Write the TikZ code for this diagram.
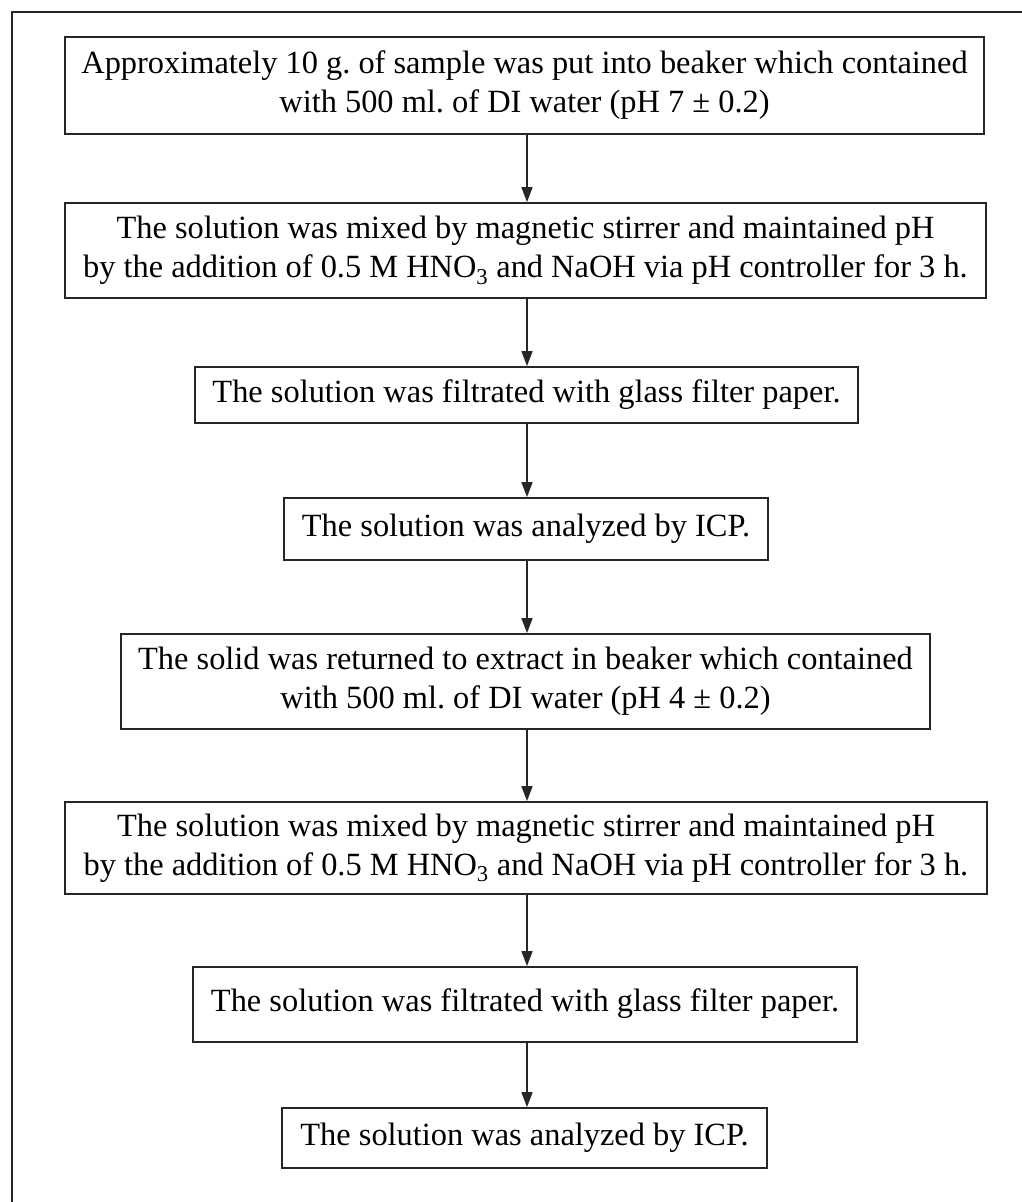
\documentclass[tikz,border=0pt]{standalone}
\usepackage{fontspec}
\setmainfont{Liberation Serif}
\usetikzlibrary{arrows.meta}
\frenchspacing
\begin{document}
\begin{tikzpicture}[x=1pt,y=-1pt,
  stepbox/.style={draw=black!85, line width=1.8pt, rectangle, inner sep=0pt,
    align=center, font=\fontsize{32.4}{39}\selectfont},
  flow/.style={draw=black!85, line width=1.5pt, -{Triangle[length=15pt,width=11pt]}}]
\useasboundingbox (0,0) rectangle (1022,1202);
\fill[white] (0,0) rectangle (1022,1202);
\draw[line width=2pt, black!85] (12,1202) -- (12,12) -- (1022,12);
\coordinate (ax) at (527,0);

\node[stepbox, minimum width=919pt, minimum height=97pt] (b1) at (524.5,85.5)
  {Approximately 10 g. of sample was put into beaker which contained\\with 500 ml. of DI water (pH 7 ± 0.2)};
\node[stepbox, minimum width=921pt, minimum height=95pt] (b2) at (525.5,250.5)
  {The solution was mixed by magnetic stirrer and maintained pH\\by the addition of 0.5 M HNO\textsubscript{3} and NaOH via pH controller for 3 h.};
\node[stepbox, minimum width=663pt, minimum height=56pt] (b3) at (526.5,395)
  {The solution was filtrated with glass filter paper.};
\node[stepbox, minimum width=484pt, minimum height=62pt] (b4) at (526,529)
  {The solution was analyzed by ICP.};
\node[stepbox, minimum width=809pt, minimum height=95pt] (b5) at (525.5,681.5)
  {The solid was returned to extract in beaker which contained\\with 500 ml. of DI water (pH 4 ± 0.2)};
\node[stepbox, minimum width=922pt, minimum height=92pt] (b6) at (526,848)
  {The solution was mixed by magnetic stirrer and maintained pH\\by the addition of 0.5 M HNO\textsubscript{3} and NaOH via pH controller for 3 h.};
\node[stepbox, minimum width=664pt, minimum height=75pt] (b7) at (525,1004.5)
  {\raisebox{9pt}{The solution was filtrated with glass filter paper.}};
\node[stepbox, minimum width=485pt, minimum height=60pt] (b8) at (524.5,1138)
  {The solution was analyzed by ICP.};

\foreach \a/\b in {b1/b2,b2/b3,b3/b4,b4/b5,b5/b6,b6/b7,b7/b8}
  \draw[flow] (\a.south -| ax) -- (\b.north -| ax);
\end{tikzpicture}
\end{document}
